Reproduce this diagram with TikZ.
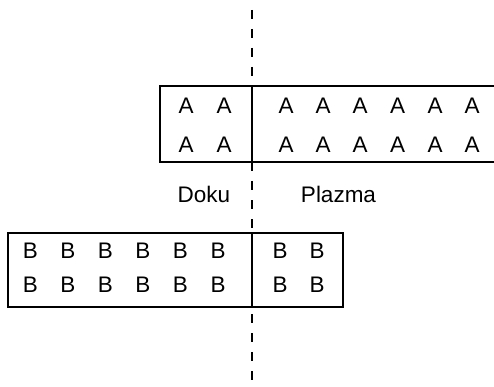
\documentclass[tikz,border=0pt]{standalone}
\usepackage{fontspec}
\setmainfont{Liberation Sans}
\begin{document}
\begin{tikzpicture}[x=1pt,y=-1pt,
  boxline/.style={line width=2pt},
  lbl/.style={inner sep=0pt,font=\fontsize{22.5}{27}\selectfont},
  divline/.style={line width=2pt,dash pattern=on 9pt off 10pt,dash phase=6pt}]
\useasboundingbox (0,0) rectangle (494,387);
\clip (0,0) rectangle (494,387);
% dashed boundary
\coordinate (dtop) at (252,-3);
\coordinate (dbot) at (252,390);
\draw[divline] (dtop) -- (dbot);
% top box (open to the right)
\coordinate (tl) at (160,86);
\coordinate (bl) at (160,162);
\coordinate (tr) at (500,86);
\coordinate (br) at (500,162);
\draw[boxline,fill=white] (tr) -- (tl) -- (bl) -- (br);
\draw[boxline] (252,86) -- (252,162);
% bottom box
\node[boxline,draw,fill=white,minimum width=335pt,minimum height=74pt,inner sep=0pt,anchor=north west] (bbox) at (7,232) {};
\draw[boxline] (252,232) -- (252,306);
% A letters
\foreach \x in {186,224,286,323,360,397.5,435,472}{
  \node[lbl] (a1-\x) at (\x,106) {A};
  \node[lbl] (a2-\x) at (\x,145) {A};
}
% B letters
\foreach \x in {30.5,68,105.5,143,180.5,218,280,317}{
  \node[lbl] (b1-\x) at (\x,251) {B};
  \node[lbl] (b2-\x) at (\x,285) {B};
}
\node[lbl] (doku) at (204,194) {Doku};
\node[lbl] (plazma) at (338.5,194) {Plazma};
\end{tikzpicture}
\end{document}
